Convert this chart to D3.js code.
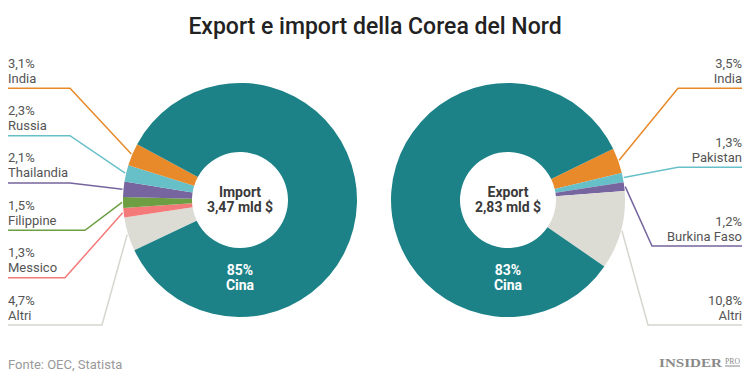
<!DOCTYPE html>
<html>
<head>
    <meta charset="utf-8">
    <title>Export e import della Corea del Nord</title>
    <style>
        body { margin: 0; background: #fff; }
        svg { display: block; font-family: Roboto, "Noto Sans", sans-serif; }
    </style>
    <script src="https://cdn.jsdelivr.net/npm/d3@7"></script>
</head>
<body>
<script>

    // data
    var importCountries = ["Cina", "India", "Russia", "Thailandia", "Filippine", "Messico", "Altri"],
        importShares = [85, 3.1, 2.3, 2.1, 1.5, 1.3, 4.7],
        importTotal = 3.47

    var exportCountries = ["Cina", "India", "Pakistan", "Burkina Faso", "Altri"],
        exportShares = [83, 3.5, 1.3, 1.2, 10.8],
        exportTotal = 2.83

    var colors = {
        "Cina": "#1c8288",
        "India": "#e8892a",
        "Russia": "#67c0c8",
        "Pakistan": "#67c0c8",
        "Thailandia": "#76659e",
        "Burkina Faso": "#76659e",
        "Filippine": "#6d9e42",
        "Messico": "#f47a7a",
        "Altri": "#dcdcd5"
    }

    var width = 750,
        height = 381,
        outerR = 117,
        innerR = 48

    var it = d3.formatLocale({decimal: ",", thousands: ".", grouping: [3], currency: ["", " €"]})
    var fmtPct = it.format(".1f"),
        fmtInt = it.format("d"),
        fmtTot = it.format(".2f")

    var svg = d3.select('body').append('svg')
        .attr('width', width)
        .attr('height', height)

    svg.append('text')
        .attr('x', width / 2)
        .attr('y', 34)
        .attr('text-anchor', 'middle')
        .attr('font-size', 23)
        .attr('font-weight', 500)
        .attr('fill', '#222')
        .text("Export e import della Corea del Nord")

    var arc = d3.arc().innerRadius(innerR).outerRadius(outerR)

    function drawDonut(opts) {
        var rows = opts.countries.map(function (c, i) { return {name: c, value: opts.shares[i]} })
        var others = rows.slice(1)
        // clockwise order of the slices, big one last
        var ordered = (opts.side === 'left' ? others.slice().reverse() : others).concat([rows[0]])

        var pie = d3.pie().sort(null).value(function (d) { return d.value })
            .startAngle(opts.start * Math.PI / 180)
            .endAngle(opts.start * Math.PI / 180 + 2 * Math.PI)
        var arcs = pie(ordered)

        var g = svg.append('g').attr('transform', 'translate(' + opts.cx + ',' + opts.cy + ')')

        g.selectAll('path').data(arcs).enter().append('path')
            .attr('d', arc)
            .attr('fill', function (d) { return colors[d.data.name] })

        // center label
        g.append('text').attr('text-anchor', 'middle').attr('y', -3.5)
            .attr('font-size', 14).attr('font-weight', 700).attr('fill', '#3a3a3a')
            .text(opts.title)
        g.append('text').attr('text-anchor', 'middle').attr('y', 12)
            .attr('font-size', 14).attr('font-weight', 700).attr('fill', '#3a3a3a')
            .text(fmtTot(opts.total) + " mld $")

        // big slice label at the bottom of the ring
        var mid = (innerR + outerR) / 2
        g.append('text').attr('text-anchor', 'middle').attr('y', mid - 8)
            .attr('font-size', 14).attr('font-weight', 700).attr('fill', '#fff')
            .text(fmtInt(rows[0].value) + "%")
        g.append('text').attr('text-anchor', 'middle').attr('y', mid + 7)
            .attr('font-size', 14).attr('font-weight', 700).attr('fill', '#fff')
            .text(rows[0].name)

        // outside labels
        var yScale = d3.scalePoint()
            .domain(others.map(function (d) { return d.name }))
            .range([88.3, 325])
        var left = opts.side === 'left'
        var textX = left ? 8 : 742

        arcs.filter(function (d) { return d.data !== rows[0] }).forEach(function (d) {
            var i = others.indexOf(d.data)
            var ly = yScale(d.data.name)
            var a = (d.startAngle + d.endAngle) / 2
            var ex = opts.cx + (outerR + 1) * Math.sin(a),
                ey = opts.cy - (outerR + 1) * Math.cos(a)
            var col = colors[d.data.name] === "#dcdcd5" ? "#d6d6cf" : colors[d.data.name]

            svg.append('polyline')
                .attr('points', [[textX, ly], [opts.elbow[i], ly], [ex, ey]].join(' '))
                .attr('fill', 'none')
                .attr('stroke', col)
                .attr('stroke-width', 1.5)

            svg.append('text')
                .attr('x', textX).attr('y', ly - 20.5)
                .attr('text-anchor', left ? 'start' : 'end')
                .attr('font-size', 13).attr('fill', '#555')
                .text(fmtPct(d.data.value) + "%")
            svg.append('text')
                .attr('x', textX).attr('y', ly - 5.5)
                .attr('text-anchor', left ? 'start' : 'end')
                .attr('font-size', 13).attr('fill', '#555')
                .text(d.data.name)
        })
    }

    drawDonut({
        side: 'left', cx: 240, cy: 200, start: 244.5,
        countries: importCountries, shares: importShares,
        title: "Import", total: importTotal,
        elbow: [70, 70, 70, 85, 65, 102]
    })

    drawDonut({
        side: 'right', cx: 508, cy: 200, start: 64,
        countries: exportCountries, shares: exportShares,
        title: "Export", total: exportTotal,
        elbow: [678, 678, 652, 648]
    })

    // footer
    svg.append('text')
        .attr('x', 8).attr('y', 368.5)
        .attr('font-size', 13).attr('fill', '#999')
        .text("Fonte: OEC, Statista")

    svg.append('text')
        .attr('x', 659).attr('y', 366.7)
        .attr('font-family', '"Liberation Serif", "DejaVu Serif", serif')
        .attr('font-size', 13).attr('font-weight', 700).attr('fill', '#8a8a8a')
        .attr('textLength', 63).attr('lengthAdjust', 'spacingAndGlyphs')
        .text("INSIDER")
    svg.append('text')
        .attr('x', 725).attr('y', 364)
        .attr('font-family', '"Liberation Serif", "DejaVu Serif", serif')
        .attr('font-size', 8).attr('fill', '#8a8a8a')
        .attr('textLength', 15).attr('lengthAdjust', 'spacingAndGlyphs')
        .text("PRO")
    svg.append('line')
        .attr('x1', 725).attr('x2', 740).attr('y1', 366).attr('y2', 366)
        .attr('stroke', '#8a8a8a').attr('stroke-width', 1)

</script>
</body>
</html>
